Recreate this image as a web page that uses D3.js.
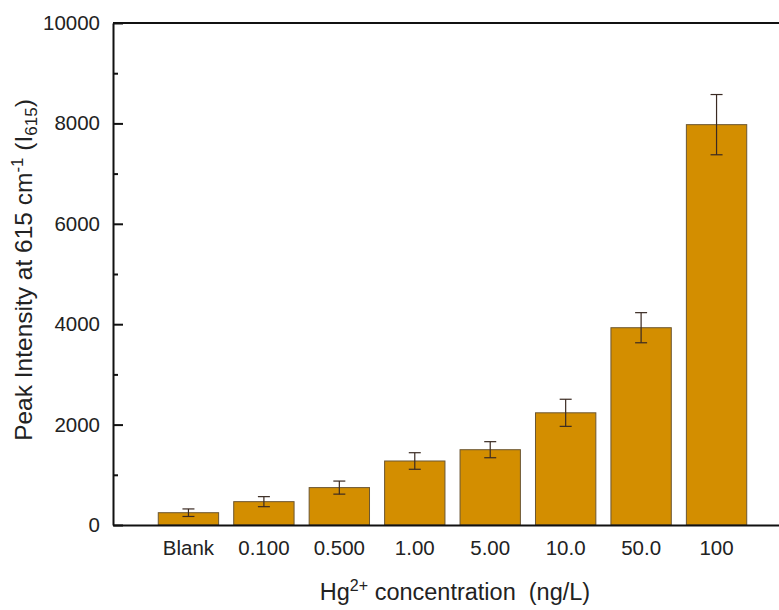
<!DOCTYPE html>
<html>
<head>
<meta charset="utf-8">
<script src="https://cdn.jsdelivr.net/npm/d3@7"></script>
<style>
  body { margin: 0; background: #fff; }
  svg { display: block; font-family: "Liberation Sans", Arial, sans-serif; }
  .axis text { font-size: 20.5px; fill: #222; }
</style>
</head>
<body>
<svg id="chart" width="779" height="610"></svg>
<script>
// data
const categories = ["Blank", "0.100", "0.500", "1.00", "5.00", "10.0", "50.0", "100"];
const intensity = [245, 465, 745, 1275, 1500, 2235, 3930, 7975];
const errors = [75, 100, 130, 165, 160, 270, 300, 600];
const yTicks = [0, 2000, 4000, 6000, 8000, 10000];
const yMinor = [1000, 3000, 5000, 7000, 9000];

const svg = d3.select('#chart');

const plotLeft = 113, plotRight = 792, plotTop = 23, plotBottom = 525;

const xScale = d3.scaleBand()
  .domain(categories)
  .range([plotLeft, plotRight])
  .paddingInner(0.2)
  .paddingOuter(0.6);

const yScale = d3.scaleLinear()
  .domain([0, 10000])
  .range([plotBottom, plotTop]);

const data = categories.map((c, i) => ({cat: c, val: intensity[i], err: errors[i]}));

// bars
svg.append('g')
  .selectAll('rect')
  .data(data)
  .join('rect')
  .attr('x', d => xScale(d.cat))
  .attr('y', d => yScale(d.val))
  .attr('width', xScale.bandwidth())
  .attr('height', d => yScale(0) - yScale(d.val))
  .attr('fill', '#d38e00')
  .attr('stroke', '#6b5632')
  .attr('stroke-width', 1);

// error bars
const eb = svg.append('g')
  .attr('stroke', '#3a2a22')
  .attr('stroke-width', 1.2)
  .selectAll('g')
  .data(data)
  .join('g')
  .attr('transform', d => `translate(${xScale(d.cat) + xScale.bandwidth() / 2},0)`);

eb.append('line')
  .attr('y1', d => yScale(d.val + d.err))
  .attr('y2', d => yScale(d.val - d.err));
eb.append('line')
  .attr('x1', -6).attr('x2', 6)
  .attr('y1', d => yScale(d.val + d.err))
  .attr('y2', d => yScale(d.val + d.err));
eb.append('line')
  .attr('x1', -6).attr('x2', 6)
  .attr('y1', d => yScale(d.val - d.err))
  .attr('y2', d => yScale(d.val - d.err));

// y axis, ticks pointing inward
svg.append('g')
  .attr('class', 'axis')
  .attr('transform', `translate(${plotLeft},0)`)
  .call(d3.axisLeft(yScale).tickValues(yTicks).tickSize(-10).tickSizeOuter(0).tickPadding(13).tickFormat(d3.format('d')))
  .call(g => g.selectAll('line, path').attr('stroke', '#111').attr('stroke-width', 2));

svg.append('g')
  .attr('transform', `translate(${plotLeft},0)`)
  .call(d3.axisLeft(yScale).tickValues(yMinor).tickSize(-5).tickFormat(''))
  .call(g => g.select('.domain').remove())
  .call(g => g.selectAll('line').attr('stroke', '#111').attr('stroke-width', 2));

// x axis
svg.append('g')
  .attr('class', 'axis')
  .attr('transform', `translate(0,${plotBottom})`)
  .call(d3.axisBottom(xScale).tickSize(0).tickPadding(15))
  .call(g => g.select('.domain').attr('stroke', '#111').attr('stroke-width', 2));

// top frame line
svg.append('line')
  .attr('x1', plotLeft).attr('x2', plotRight)
  .attr('y1', plotTop).attr('y2', plotTop)
  .attr('stroke', '#111').attr('stroke-width', 2);

// axis titles
const xt = svg.append('text')
  .attr('x', 455)
  .attr('y', 600)
  .attr('text-anchor', 'middle')
  .attr('font-size', 23.5)
  .attr('fill', '#222');
xt.append('tspan').text('Hg');
xt.append('tspan').attr('dy', -9).attr('font-size', 16).text('2+');
xt.append('tspan').attr('dy', 9).text(' concentration\u00a0 (ng/L)');

const yt = svg.append('text')
  .attr('transform', 'translate(32,270) rotate(-90)')
  .attr('text-anchor', 'middle')
  .attr('font-size', 24.5)
  .attr('fill', '#222');
yt.append('tspan').text('Peak Intensity at 615 cm');
yt.append('tspan').attr('dy', -9).attr('font-size', 17).text('-1');
yt.append('tspan').attr('dy', 9).text(' (I');
yt.append('tspan').attr('dy', 5).attr('font-size', 17).text('615');
yt.append('tspan').attr('dy', -5).text(')');
</script>
</body>
</html>
